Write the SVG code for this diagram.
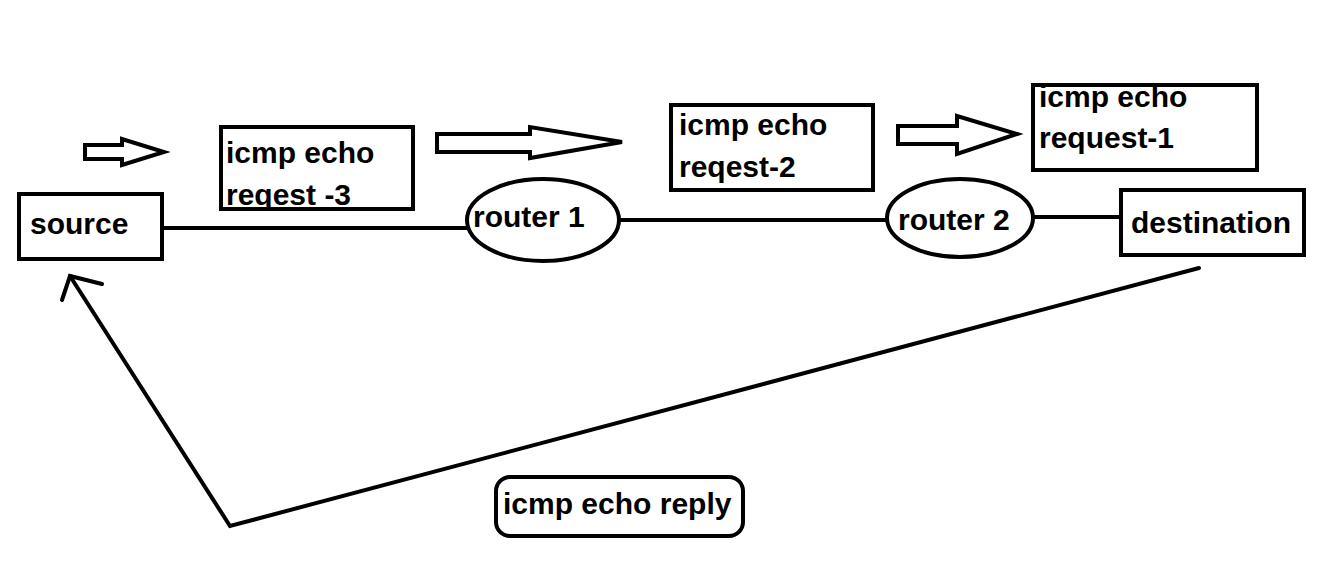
<svg xmlns="http://www.w3.org/2000/svg" width="1341" height="569" viewBox="0 0 1341 569">
  <style>
    .box { fill: #ffffff; stroke: #000000; stroke-width: 4; }
    .nobg { fill: none; stroke: #000000; stroke-width: 4; }
    .lbl { font-family: "Liberation Sans", Arial, sans-serif; font-weight: bold; font-size: 30px; fill: #000000; }
    .wire { fill: none; stroke: #000000; stroke-width: 4; stroke-linecap: round; stroke-linejoin: miter; }
    .harrow { fill: #ffffff; stroke: #000000; stroke-width: 4; stroke-linejoin: miter; }
  </style>
  <defs>
    <clipPath id="clip1"><rect x="221" y="127" width="192" height="80"/></clipPath>
  </defs>
  <rect x="0" y="0" width="1341" height="569" fill="#ffffff"/>

  <g id="connectors">
    <line class="wire" x1="162" y1="228" x2="467" y2="228"/>
    <line class="wire" x1="619" y1="220" x2="887" y2="220"/>
    <line class="wire" x1="1033" y1="217" x2="1121" y2="217"/>
    <polyline class="wire" points="1199,268 230,526 70,276"/>
    <polyline class="wire" points="102,284 70,276 62,300"/>
  </g>

  <g id="flow-arrows">
    <polygon class="harrow" points="85,145 122,145 122,139 164,152 122,165 122,159 85,159"/>
    <polygon class="harrow" points="437,134 530,134 530,127 622,142 530,158 530,152 437,152"/>
    <polygon class="harrow" points="898,126 957,126 957,116 1017,134 957,154 957,144 898,144"/>
  </g>

  <g id="source">
    <rect class="box" x="19" y="194" width="143" height="65"/>
    <text class="lbl" x="30" y="234">source</text>
  </g>

  <g id="router1">
    <ellipse class="box" cx="543" cy="220" rx="76" ry="41"/>
    <text class="lbl" x="473" y="227">router 1</text>
  </g>

  <g id="router2">
    <ellipse class="box" cx="960" cy="218" rx="73" ry="39"/>
    <text class="lbl" x="898" y="230">router 2</text>
  </g>

  <g id="destination">
    <rect class="box" x="1121" y="190" width="183" height="65"/>
    <text class="lbl" x="1131" y="233">destination</text>
  </g>

  <g id="request3">
    <rect class="box" x="221" y="127" width="192" height="82"/>
    <g clip-path="url(#clip1)">
      <text class="lbl" x="226" y="163">icmp echo</text>
      <text class="lbl" x="226" y="205">reqest -3</text>
    </g>
    <rect class="nobg" x="221" y="127" width="192" height="82"/>
  </g>

  <g id="request2">
    <rect class="box" x="671" y="105" width="202" height="85"/>
    <text class="lbl" x="679" y="135">icmp echo</text>
    <text class="lbl" x="679" y="177">reqest-2</text>
  </g>

  <g id="request1">
    <rect class="box" x="1033" y="85" width="224" height="85"/>
    <text class="lbl" x="1039" y="107">icmp echo</text>
    <text class="lbl" x="1039" y="148">request-1</text>
  </g>

  <g id="reply">
    <rect class="box" x="496" y="477" width="247" height="59" rx="14" ry="14"/>
    <text class="lbl" x="503" y="514">icmp echo reply</text>
  </g>
</svg>
